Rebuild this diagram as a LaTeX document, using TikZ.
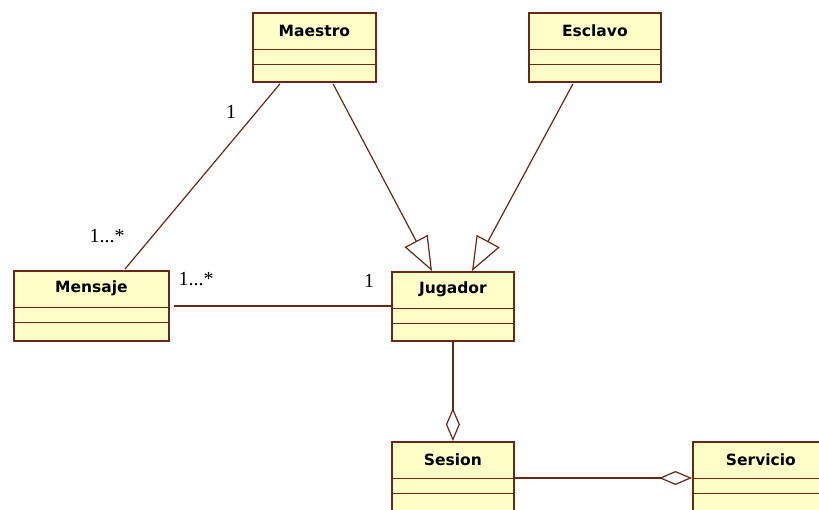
\documentclass[tikz,border=0pt]{standalone}
\usepackage{fontspec}
\setmainfont{Liberation Serif}
\newfontfamily\clsfont{DejaVu Sans}
\usetikzlibrary{arrows.meta,calc}
\definecolor{yel}{RGB}{255,255,200}
\definecolor{brd}{RGB}{105,40,20}
\tikzset{
  cls/.style={draw=brd, fill=yel, line width=1.8pt, anchor=north west, inner sep=0pt},
  clsname/.style={font=\clsfont\bfseries\fontsize{15.5}{17}\selectfont, inner sep=0pt},
  divider/.style={draw=brd, line width=1.7pt},
  conn/.style={draw=brd, line width=1.2pt},
  gen/.style={conn, -{Triangle[open, length=34pt, width=26pt, fill=white]}},
  agg/.style={conn, -{Diamond[open, length=33pt, width=14pt, fill=white]}},
  mult/.style={font=\fontsize{20}{22}\selectfont, inner sep=0pt}
}
\newcommand\umlbox[6]{%
  \node[cls, minimum width=#4pt, minimum height=#5pt] (#1) at (#2,#3) {};
  \node[clsname] (#1-t) at ($(#1.north)+(0,18.5)$) {#6};
  \draw[divider] ($(#1.north west)+(0,37.5)$) -- ($(#1.north east)+(0,37.5)$);
  \draw[divider] ($(#1.north west)+(0,52.5)$) -- ($(#1.north east)+(0,52.5)$);
}
\begin{document}
\begin{tikzpicture}[x=1pt,y=-1pt]
\useasboundingbox[fill=white] (0,0) rectangle (819,510);
\umlbox{maestro}{252}{12}{123}{69}{Maestro}
\umlbox{esclavo}{528}{12}{132}{69}{Esclavo}
\umlbox{mensaje}{13}{270}{155}{70}{Mensaje}
\umlbox{jugador}{391}{271}{122}{69}{Jugador}
\umlbox{sesion}{391}{441}{122}{80}{Sesion}
\umlbox{servicio}{692}{441}{136}{80}{Servicio}
% connectors
\draw[conn] ($(maestro.south west)+(28,1)$) -- ($(mensaje.north west)+(112,-1)$);
\draw[gen] ($(maestro.south west)+(81,1)$) -- ($(jugador.north west)+(41,0)$);
\draw[gen] ($(esclavo.south west)+(45,1)$) -- ($(jugador.north west)+(81,0)$);
\draw[conn] ($(mensaje.north east)+(4,36)$) -- ($(jugador.north west)+(0,35)$);
\draw[agg] (jugador.south) -- (sesion.north);
\draw[agg] ($(sesion.north east)+(0,37)$) -- ($(servicio.north west)+(0,37)$);
% multiplicities
\node[mult] (m1) at (231,112) {1};
\node[mult] (m2) at (107,236) {1...*};
\node[mult] (m3) at (196,279) {1...*};
\node[mult] (m4) at (369,281) {1};
\end{tikzpicture}
\end{document}
